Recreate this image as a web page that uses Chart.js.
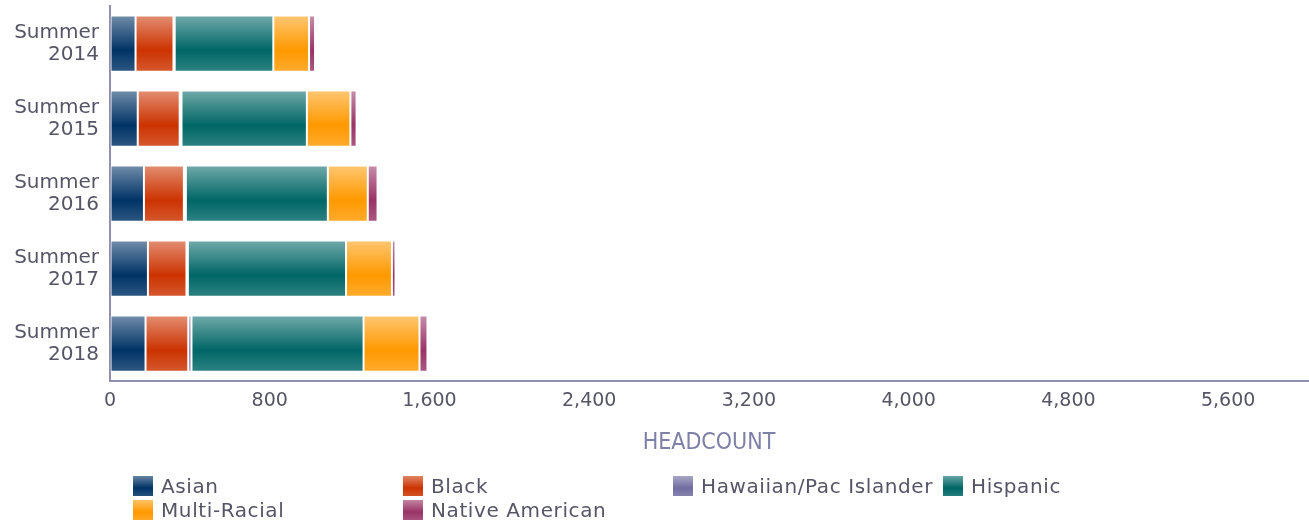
<!DOCTYPE html>
<html>
<head>
<meta charset="utf-8">
<script src="https://cdn.jsdelivr.net/npm/chart.js@4.4.1/dist/chart.umd.min.js"></script>
<style>
    body { margin: 0; background: #ffffff; }
    #contenedor { position: relative; width: 1309px; height: 521px; }
    #leyenda {
        position: absolute; left: 133px; top: 474px; width: 1100px;
        display: flex; flex-wrap: wrap;
        font-family: "DejaVu Sans", sans-serif; font-size: 20px; color: #555566;
        letter-spacing: 0.6px;
    }
    .item { width: 270px; height: 24px; display: flex; align-items: center; white-space: nowrap; }
    .caja { width: 20px; height: 20px; margin-right: 8px; flex: none; }
</style>
</head>
<body>
<div id="contenedor">
    <canvas id="grafico" width="1309" height="521"></canvas>
    <div id="leyenda"></div>
</div>
<script>
/*
* Datos
*/
const categorias = [["Summer", "2014"], ["Summer", "2015"], ["Summer", "2016"], ["Summer", "2017"], ["Summer", "2018"]];
const asian = [128, 139, 170, 190, 178];
const black = [190, 210, 200, 193, 214];
const hawaiian = [6, 9, 10, 7, 16];
const hispanic = [494, 628, 711, 792, 862];
const multiRacial = [179, 218, 200, 230, 280];
const nativeAmerican = [30, 31, 49, 18, 40];
const ticksX = [0, 800, 1600, 2400, 3200, 4000, 4800, 5600];

const series = [
    {nombre: "Asian", datos: asian, color: [0, 51, 102]},
    {nombre: "Black", datos: black, color: [204, 51, 0]},
    {nombre: "Hawaiian/Pac Islander", datos: hawaiian, color: [112, 108, 160]},
    {nombre: "Hispanic", datos: hispanic, color: [0, 102, 102]},
    {nombre: "Multi-Racial", datos: multiRacial, color: [255, 153, 0]},
    {nombre: "Native American", datos: nativeAmerican, color: [153, 51, 102]}
];

function mezcla(c, f) {
    // aclara el color hacia blanco
    return "rgb(" + c.map(v => Math.round(v + (255 - v) * f)).join(",") + ")";
}

/*
* Degradado vertical de cada barra
*/
function degradado(c) {
    return function (ctx) {
        let chart = ctx.chart;
        let y = chart.scales.y;
        if (!chart.chartArea || !y || !y.height || ctx.dataIndex === undefined) {
            return mezcla(c, 0);
        }
        let centro = y.getPixelForValue(ctx.dataIndex);
        let alto = (y.height / categorias.length) * 0.75;
        let g = chart.ctx.createLinearGradient(0, centro - alto / 2, 0, centro + alto / 2);
        g.addColorStop(0, mezcla(c, 0.45));
        g.addColorStop(0.2, mezcla(c, 0.3));
        g.addColorStop(0.62, mezcla(c, 0));
        g.addColorStop(1, mezcla(c, 0.18));
        return g;
    };
}

const colorEje = "#8e8eae";
const colorTexto = "#555566";

let ctx1 = document.getElementById("grafico").getContext("2d");
let grafico = new Chart(ctx1, {
    type: "bar",
    data: {
        labels: categorias,
        datasets: series.map(s => ({
            label: s.nombre,
            data: s.datos,
            backgroundColor: degradado(s.color),
            borderColor: "rgba(255,255,255,0.5)",
            borderWidth: 1,
            borderSkipped: false,
            barPercentage: 0.75,
            categoryPercentage: 1
        }))
    },
    options: {
        indexAxis: "y",
        responsive: false,
        animation: false,
        layout: {padding: {top: 6, right: 1, bottom: 60, left: 0}},
        plugins: {legend: {display: false}, tooltip: {enabled: false}},
        scales: {
            x: {
                stacked: true,
                min: 0,
                max: 6000,
                afterBuildTicks: function (eje) {
                    eje.ticks = ticksX.map(v => ({value: v}));
                },
                afterFit: function (eje) { eje.height = 80; },
                grid: {drawOnChartArea: false, drawTicks: false},
                border: {display: true, color: colorEje, width: 2},
                ticks: {
                    padding: 9,
                    color: colorTexto,
                    font: {family: "DejaVu Sans", size: 19}
                },
                title: {
                    display: true,
                    text: "HEADCOUNT",
                    color: "#7f80a8",
                    font: {family: "DejaVu Sans Condensed", size: 23},
                    padding: {top: 0, bottom: 4}
                }
            },
            y: {
                stacked: true,
                afterFit: function (eje) {
                    eje.width = 110;
                    eje.paddingTop = 0;
                    eje.paddingBottom = 0;
                },
                grid: {drawOnChartArea: false, drawTicks: false},
                border: {display: true, color: colorEje, width: 2},
                ticks: {
                    padding: 11,
                    color: colorTexto,
                    font: {family: "DejaVu Sans", size: 20, lineHeight: 1.1}
                }
            }
        }
    }
});

/*
* Leyenda
*/
let leyenda = document.getElementById("leyenda");
series.forEach(function (s) {
    let item = document.createElement("div");
    item.className = "item";
    let caja = document.createElement("span");
    caja.className = "caja";
    caja.style.background = "linear-gradient(" + mezcla(s.color, 0.4) + "," + mezcla(s.color, 0) + " 60%," + mezcla(s.color, 0.15) + ")";
    item.appendChild(caja);
    item.appendChild(document.createTextNode(s.nombre));
    leyenda.appendChild(item);
});
</script>
</body>
</html>
